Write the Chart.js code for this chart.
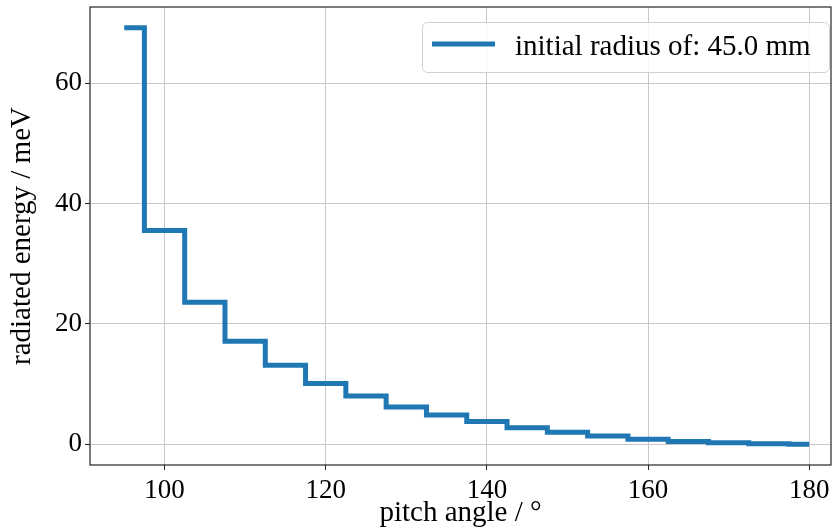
<!DOCTYPE html>
<html lang="en">
<head>
  <meta charset="UTF-8">
  <title>radiated energy vs pitch angle</title>
  <script src="https://cdn.jsdelivr.net/npm/chart.js"></script>
  <style>
    body { margin: 0; background: #fff; }
    #wrap { width: 832px; height: 532px; position: relative; }
  </style>
</head>
<body>
  <div id="wrap"><canvas id="energyChart"></canvas></div>

  <script>
    // pitch angle in degrees, radiated energy in meV
    const pitchAngles = [95, 100, 105, 110, 115, 120, 125, 130, 135, 140, 145, 150, 155, 160, 165, 170, 175, 180];
    const energies = [69.2, 35.5, 23.6, 17.1, 13.1, 10.1, 8.0, 6.2, 4.85, 3.75, 2.75, 2.0, 1.38, 0.83, 0.45, 0.22, 0.07, 0.0];
    const seriesLabel = "initial radius of: 45.0 mm";
    const xTicks = [100, 120, 140, 160, 180];
    const yTicks = [0, 20, 40, 60];

    const FONT = "'Liberation Serif', 'Times New Roman', serif";
    const BLUE = "#1f77b4";

    // matplotlib-like frame + boxed legend in the upper right
    const framePlugin = {
      id: 'frame',
      afterDatasetsDraw(chart) {
        const { ctx, chartArea: a } = chart;
        ctx.save();
        ctx.strokeStyle = "#262626";
        ctx.lineWidth = 1.2;
        ctx.strokeRect(a.left, a.top, a.right - a.left, a.bottom - a.top);

        // legend
        const w = 407, h = 50;
        const x = a.right - 409, y = a.top + 15;
        ctx.fillStyle = "rgba(255,255,255,0.8)";
        ctx.strokeStyle = "#d0d0d0";
        ctx.lineWidth = 1;
        ctx.beginPath();
        ctx.roundRect(x + 0.5, y + 0.5, w, h, 5);
        ctx.fill();
        ctx.stroke();

        ctx.strokeStyle = BLUE;
        ctx.lineWidth = 5;
        ctx.beginPath();
        ctx.moveTo(x + 10, y + 22);
        ctx.lineTo(x + 73, y + 22);
        ctx.stroke();

        ctx.fillStyle = "#000";
        ctx.font = "29px " + FONT;
        ctx.textBaseline = "alphabetic";
        ctx.fillText(chart.data.datasets[0].label, x + 93, y + 33);
        ctx.restore();
      }
    };

    const ctx = document.getElementById("energyChart").getContext("2d");
    new Chart(ctx, {
      type: "line",
      data: {
        datasets: [{
          label: seriesLabel,
          data: pitchAngles.map((p, i) => ({ x: p, y: energies[i] })),
          borderColor: BLUE,
          borderWidth: 5,
          stepped: 'middle',
          pointRadius: 0,
          fill: false,
          borderJoinStyle: 'miter',
          borderCapStyle: 'butt'
        }]
      },
      options: {
        responsive: true,
        maintainAspectRatio: false,
        animation: false,
        layout: { padding: { top: 7, right: 1, left: 0, bottom: 0 } },
        plugins: {
          legend: { display: false },
          tooltip: { enabled: false }
        },
        scales: {
          x: {
            type: 'linear',
            min: 90.75,
            max: 182.7,
            afterBuildTicks: s => { s.ticks = xTicks.map(v => ({ value: v })); },
            afterFit: s => { s.height = 67; s.paddingLeft = 0; s.paddingRight = 0; },
            grid: { color: "#c8c8c8", lineWidth: 1, tickLength: 5, tickColor: "#262626" },
            border: { display: false },
            ticks: {
              font: { family: FONT, size: 27 },
              color: "#000",
              padding: 5,
              maxRotation: 0
            },
            title: {
              display: true,
              text: "pitch angle / °",
              font: { family: FONT, size: 29 },
              color: "#000",
              padding: { top: 0, bottom: 1 }
            }
          },
          y: {
            type: 'linear',
            min: -3.46,
            max: 72.66,
            afterBuildTicks: s => { s.ticks = yTicks.map(v => ({ value: v })); },
            afterFit: s => { s.width = 90; s.paddingTop = 0; s.paddingBottom = 0; },
            grid: { color: "#c8c8c8", lineWidth: 1, tickLength: 5, tickColor: "#262626" },
            border: { display: false },
            ticks: {
              font: { family: FONT, size: 27 },
              color: "#000",
              padding: 3
            },
            title: {
              display: true,
              text: "radiated energy / meV",
              font: { family: FONT, size: 29 },
              color: "#000",
              padding: { top: 5, bottom: 0 }
            }
          }
        }
      },
      plugins: [framePlugin]
    });
  </script>
</body>
</html>
